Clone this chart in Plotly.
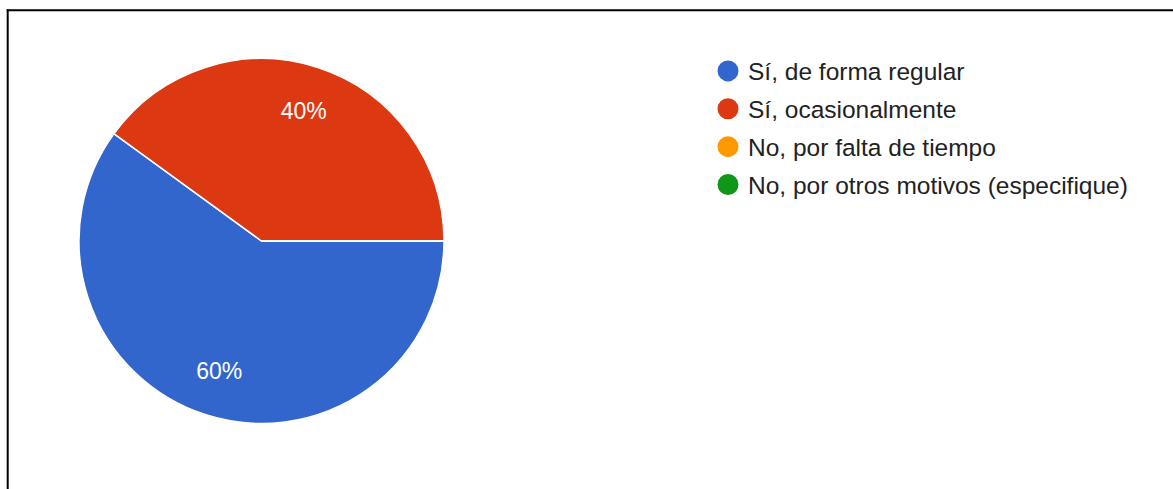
import plotly.graph_objects as go

categories = ["Sí, de forma regular", "Sí, ocasionalmente",
              "No, por falta de tiempo", "No, por otros motivos (especifique)"]
values = [60, 40, 0, 0]
colors = ["#3366CC", "#DC3912", "#FF9900", "#109618"]

W, H = 1173, 489
FONT = "Liberation Sans, Arial, sans-serif"
total = sum(values)
texts = [f"{v / total * 100:.0f}%" if v else "" for v in values]
domain = dict(x=[79 / W, 444 / W], y=[1 - 424 / H, 1 - 58 / H])

fig = go.Figure()
# full pie (slices)
fig.add_trace(go.Pie(
    labels=categories, values=values, textinfo="none",
    sort=False, direction="clockwise", rotation=90,
    marker=dict(colors=colors, line=dict(color="white", width=1.5)),
    showlegend=False, hoverinfo="label+percent", domain=domain,
))
# transparent ring overlay carrying the percentage labels at the outer part of each slice
fig.add_trace(go.Pie(
    labels=categories, values=values, text=texts, textinfo="text",
    sort=False, direction="clockwise", rotation=90, hole=0.5,
    marker=dict(colors=["rgba(0,0,0,0)"] * len(values), line=dict(width=0)),
    textposition="inside", insidetextorientation="horizontal",
    textfont=dict(color="white", size=23, family=FONT),
    showlegend=False, hoverinfo="skip", domain=domain,
))
for i, (c, col) in enumerate(zip(categories, colors)):
    fig.add_trace(go.Scatter(
        x=[None], y=[None], mode="markers", name=c, legendgroup=f"g{i}",
        marker=dict(symbol="circle", size=16, color=col, line=dict(color=col, width=5)),
        showlegend=True,
    ))

fig.update_layout(
    width=W, height=H, autosize=False,
    margin=dict(l=0, r=0, t=0, b=0),
    paper_bgcolor="white", plot_bgcolor="white",
    xaxis=dict(visible=False), yaxis=dict(visible=False),
    font=dict(family=FONT, color="#222222"),
    legend=dict(
        x=708 / W, y=1 - 48.5 / H, xanchor="left", yanchor="top",
        font=dict(size=24.5, color="#222222", family=FONT),
        traceorder="grouped", tracegroupgap=3,
        bgcolor="rgba(0,0,0,0)",
    ),
    shapes=[
        dict(type="line", xref="paper", yref="paper",
             x0=7.7 / W, x1=7.7 / W, y0=0, y1=1 - 9.3 / H,
             line=dict(color="black", width=2)),
        dict(type="line", xref="paper", yref="paper",
             x0=6.7 / W, x1=1, y0=1 - 10.3 / H, y1=1 - 10.3 / H,
             line=dict(color="black", width=2)),
    ],
)

fig.write_html("out.html", config={"displayModeBar": False},
               post_script="document.body.style.margin='0';")
